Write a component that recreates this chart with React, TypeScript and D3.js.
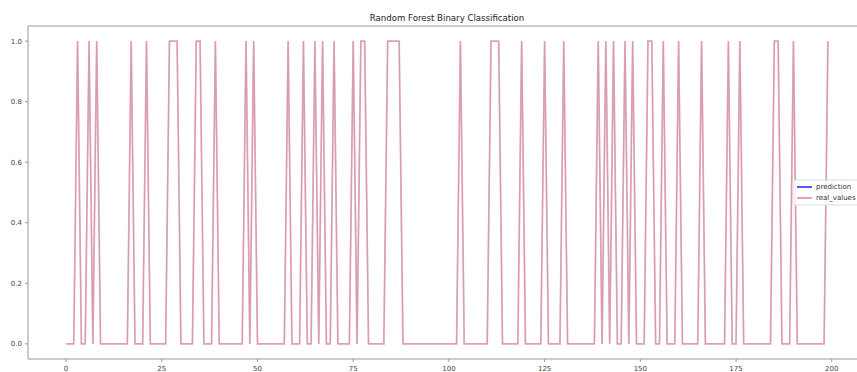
import React from 'react'
import * as d3 from 'd3'

// 200 samples, class labels
const realValues: number[] = [
  0, 0, 0, 1, 0, 0, 1, 0, 1, 0, 0, 0, 0, 0, 0, 0, 0, 1, 0, 0,
  0, 1, 0, 0, 0, 0, 0, 1, 1, 1, 0, 0, 0, 0, 1, 1, 0, 0, 0, 1,
  0, 0, 0, 0, 0, 0, 0, 1, 0, 1, 0, 0, 0, 0, 0, 0, 0, 0, 1, 0,
  0, 0, 1, 0, 0, 1, 0, 1, 0, 0, 1, 0, 0, 0, 0, 1, 0, 1, 1, 0,
  0, 0, 0, 0, 1, 1, 1, 1, 0, 0, 0, 0, 0, 0, 0, 0, 0, 0, 0, 0,
  0, 0, 0, 1, 0, 0, 0, 0, 0, 0, 0, 1, 1, 1, 0, 0, 0, 0, 0, 1,
  0, 0, 0, 0, 0, 1, 0, 0, 0, 0, 1, 0, 0, 0, 0, 0, 0, 0, 0, 1,
  0, 1, 0, 1, 0, 0, 1, 0, 1, 0, 0, 0, 1, 1, 0, 0, 1, 0, 0, 0,
  1, 0, 0, 0, 0, 0, 1, 0, 0, 0, 0, 0, 0, 1, 0, 0, 1, 0, 0, 0,
  0, 0, 0, 0, 0, 1, 1, 0, 0, 0, 1, 0, 0, 0, 0, 0, 0, 0, 0, 1
]

// the prediction line sits exactly under the real values
const prediction: number[] = [
  0, 0, 0, 1, 0, 0, 1, 0, 1, 0, 0, 0, 0, 0, 0, 0, 0, 1, 0, 0,
  0, 1, 0, 0, 0, 0, 0, 1, 1, 1, 0, 0, 0, 0, 1, 1, 0, 0, 0, 1,
  0, 0, 0, 0, 0, 0, 0, 1, 0, 1, 0, 0, 0, 0, 0, 0, 0, 0, 1, 0,
  0, 0, 1, 0, 0, 1, 0, 1, 0, 0, 1, 0, 0, 0, 0, 1, 0, 1, 1, 0,
  0, 0, 0, 0, 1, 1, 1, 1, 0, 0, 0, 0, 0, 0, 0, 0, 0, 0, 0, 0,
  0, 0, 0, 1, 0, 0, 0, 0, 0, 0, 0, 1, 1, 1, 0, 0, 0, 0, 0, 1,
  0, 0, 0, 0, 0, 1, 0, 0, 0, 0, 1, 0, 0, 0, 0, 0, 0, 0, 0, 1,
  0, 1, 0, 1, 0, 0, 1, 0, 1, 0, 0, 0, 1, 1, 0, 0, 1, 0, 0, 0,
  1, 0, 0, 0, 0, 0, 1, 0, 0, 0, 0, 0, 0, 1, 0, 0, 1, 0, 0, 0,
  0, 0, 0, 0, 0, 1, 1, 0, 0, 0, 1, 0, 0, 0, 0, 0, 0, 0, 0, 1
]

const xTicks = [0, 25, 50, 75, 100, 125, 150, 175, 200]
const yTicks = [0, 0.2, 0.4, 0.6, 0.8, 1.0]
const seriesNames = ['prediction', 'real_values']

const W = 857
const H = 372
const font = '"DejaVu Sans", sans-serif'

const App = () => {
  // axes box runs past the right edge of the picture (matplotlib 5% margins)
  const plot = { left: 28, top: 26, right: 866, bottom: 359 }

  const n = realValues.length
  const pad = (n - 1) * 0.05
  const xScale = d3.scaleLinear().domain([-pad, n - 1 + pad]).range([plot.left, plot.right])
  const yScale = d3.scaleLinear().domain([-0.05, 1.05]).range([plot.bottom, plot.top])

  const line = d3
    .line<number>()
    .x((_, i) => xScale(i))
    .y(d => yScale(d))

  const legendX = 793
  const legendY = 180

  return (
    <svg width={W} height={H} style={{ position: 'absolute', left: 0, top: 0, background: '#fff' }}>
      <defs>
        <clipPath id='plotclip'>
          <rect x={plot.left} y={plot.top} width={plot.right - plot.left} height={plot.bottom - plot.top} />
        </clipPath>
      </defs>

      <text x={(plot.left + plot.right) / 2} y={21} textAnchor='middle' fontFamily={font} fontSize={8.6} fill='#222'>
        Random Forest Binary Classification
      </text>

      <g clipPath='url(#plotclip)'>
        <path d={line(prediction) ?? ''} fill='none' stroke='#6a6ad8' strokeWidth={1.3} strokeOpacity={0.35} />
        <path d={line(realValues) ?? ''} fill='none' stroke='#e27585' strokeWidth={1.8} strokeOpacity={0.55} />
      </g>

      {/* spines */}
      <line x1={plot.left} x2={plot.right} y1={plot.top} y2={plot.top} stroke='#999' strokeWidth={1} />
      <line x1={plot.left} x2={plot.right} y1={plot.bottom} y2={plot.bottom} stroke='#999' strokeWidth={1} />
      <line x1={plot.left} x2={plot.left} y1={plot.top} y2={plot.bottom} stroke='#999' strokeWidth={1} />

      {xTicks.map(t => (
        <g key={'x' + t} transform={`translate(${xScale(t)},${plot.bottom})`}>
          <line y1={0} y2={3} stroke='#999' />
          <text y={12} textAnchor='middle' fontFamily={font} fontSize={7} fill='#444'>
            {t}
          </text>
        </g>
      ))}

      {yTicks.map(t => (
        <g key={'y' + t} transform={`translate(${plot.left},${yScale(t)})`}>
          <line x1={-3} x2={0} stroke='#999' />
          <text x={-6} dy='0.35em' textAnchor='end' fontFamily={font} fontSize={7} fill='#444'>
            {t.toFixed(1)}
          </text>
        </g>
      ))}

      {/* legend at the right edge, like in the picture */}
      <g transform={`translate(${legendX},${legendY})`}>
        <rect x={0} y={0} width={70} height={25} rx={2} fill='#fff' fillOpacity={0.85} stroke='#ddd' />
        <line x1={4} x2={19} y1={7} y2={7} stroke='#2222ee' strokeWidth={1.8} strokeOpacity={0.85} />
        <text x={23} y={7} dy='0.35em' fontFamily={font} fontSize={7} fill='#333'>
          {seriesNames[0]}
        </text>
        <line x1={4} x2={19} y1={18} y2={18} stroke='#e27585' strokeWidth={1.8} strokeOpacity={0.75} />
        <text x={23} y={18} dy='0.35em' fontFamily={font} fontSize={7} fill='#333'>
          {seriesNames[1]}
        </text>
      </g>
    </svg>
  )
}

export default App
